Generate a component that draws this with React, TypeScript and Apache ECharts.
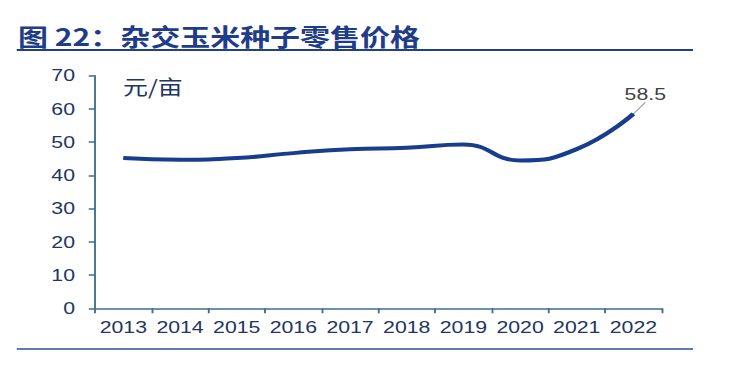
import React, { useEffect, useRef } from "react";
import * as echarts from "echarts";

const titleText = "图 22：杂交玉米种子零售价格";
const unitText = "元/亩";
const years = ["2013", "2014", "2015", "2016", "2017", "2018", "2019", "2020", "2021", "2022"];
const prices = [45.2, 44.7, 45.2, 46.7, 47.9, 48.3, 49.3, 44.5, 47.9, 58.5];
const yMin = 0;
const yMax = 70;
const yStep = 10;

const S = 1.25; // horizontal stretch of the reference image
const W = 744 / S;
const H = 365;

export default function App() {
  const ref = useRef<HTMLDivElement>(null);
  useEffect(() => {
    if (!ref.current) return;
    const chart = echarts.init(ref.current, undefined, { renderer: "svg", width: W, height: H });
    const last = prices.length - 1;
    chart.setOption({
      animation: false,
      backgroundColor: "#ffffff",
      grid: { left: 76, right: W - 529.4, top: 75.7, bottom: H - 308.3, containLabel: false },
      xAxis: {
        type: "category",
        data: years,
        boundaryGap: true,
        axisLine: { show: true, lineStyle: { color: "#3f6f8f", width: 1.5 } },
        axisTick: { show: true, length: 5, lineStyle: { color: "#3f6f8f", width: 1.5 } },
        axisLabel: {
          interval: 0,
          hideOverlap: false,
          fontSize: 17,
          color: "#223563",
          fontFamily: "Liberation Sans",
          margin: 10,
        },
        splitLine: { show: false },
      },
      yAxis: {
        type: "value",
        min: yMin,
        max: yMax,
        interval: yStep,
        axisLine: { show: true, lineStyle: { color: "#3f6f8f", width: 1.5 } },
        axisTick: { show: true, length: 5, lineStyle: { color: "#3f6f8f", width: 1.5 } },
        axisLabel: { fontSize: 17, color: "#223563", fontFamily: "Liberation Sans", margin: 16 },
        splitLine: { show: false },
      },
      graphic: [
        {
          type: "text",
          left: 14.4,
          top: 23,
          style: {
            text: titleText,
            fontSize: 24,
            fontWeight: "bold",
            fontFamily: "Noto Sans CJK SC",
            fill: "#1f3c88",
          },
        },
        {
          type: "line",
          shape: { x1: 13.4, y1: 50, x2: 554.4, y2: 50 },
          style: { stroke: "#1f3f8f", lineWidth: 2 },
        },
        {
          type: "line",
          shape: { x1: 13.4, y1: 349, x2: 554.4, y2: 349 },
          style: { stroke: "#2a4f9a", lineWidth: 1.5 },
        },
        {
          type: "text",
          left: 98.4,
          top: 77,
          style: {
            text: unitText,
            fontSize: 20,
            fontFamily: "Noto Sans CJK SC",
            fill: "#223563",
          },
        },
      ],
      series: [
        {
          type: "line",
          data: prices.map((v, i) =>
            i === last
              ? { value: v, label: { show: true } }
              : { value: v, label: { show: false } }
          ),
          smooth: 0.5,
          symbol: "circle",
          symbolSize: 1,
          showSymbol: true,
          itemStyle: { color: "#173d8c" },
          lineStyle: { color: "#173d8c", width: 4 },
          label: {
            position: "top",
            distance: 5,
            fontSize: 17,
            color: "#404040",
            fontFamily: "Liberation Sans",
          },
          labelLayout: { dx: 9.5, dy: -6 },
          labelLine: { show: true, lineStyle: { color: "#9a9a9a", width: 1 } },
        },
      ],
    });
    return () => chart.dispose();
  }, []);
  return (
    <div
      style={{
        position: "absolute",
        left: 0,
        top: 0,
        width: 744,
        height: H,
        overflow: "hidden",
        background: "#ffffff",
      }}
    >
      <div
        ref={ref}
        style={{ width: W, height: H, transform: `scaleX(${S})`, transformOrigin: "0 0" }}
      />
    </div>
  );
}
